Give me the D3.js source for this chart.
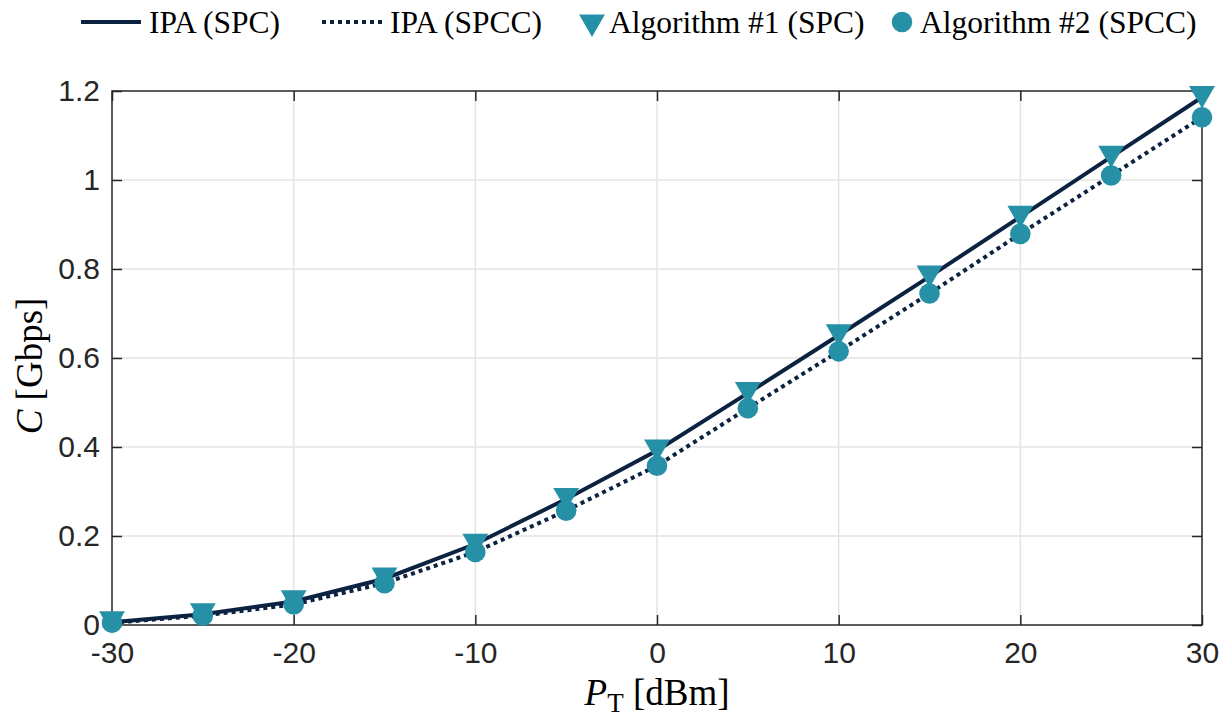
<!DOCTYPE html>
<html lang="en">
  <head>
    <meta charset="UTF-8" />
    <title>Capacity vs transmit power</title>
    <script src="https://d3js.org/d3.v7.min.js"></script>
    <style>
      body {
        margin: 0;
        background: #fff;
      }
      svg {
        display: block;
      }
    </style>
  </head>
  <body>
    <svg width="1232" height="722"></svg>
    <script>
      // data
      const powerDbm = [-30, -25, -20, -15, -10, -5, 0, 5, 10, 15, 20, 25, 30];
      const ipaSpc = [0.006, 0.024, 0.053, 0.104, 0.182, 0.283, 0.392, 0.521, 0.651, 0.783, 0.917, 1.052, 1.186];
      const ipaSpcc = [0.005, 0.021, 0.046, 0.094, 0.164, 0.257, 0.358, 0.487, 0.615, 0.745, 0.879, 1.01, 1.141];
      const alg1Spc = [0.006, 0.024, 0.053, 0.104, 0.18, 0.283, 0.392, 0.521, 0.651, 0.783, 0.917, 1.052, 1.186];
      const alg2Spcc = [0.005, 0.021, 0.046, 0.094, 0.164, 0.257, 0.358, 0.487, 0.615, 0.745, 0.879, 1.01, 1.141];
      const xTicks = [-30, -20, -10, 0, 10, 20, 30];
      const yTicks = [0, 0.2, 0.4, 0.6, 0.8, 1, 1.2];

      const lineColor = "#0b2240";
      const markerColor = "#2690a6";

      const svg = d3.select("svg");
      const margin = { top: 91, right: 30, bottom: 97, left: 112 };
      const width = 1202 - margin.left;
      const height = 625 - margin.top;

      const g = svg
        .append("g")
        .attr("transform", `translate(${margin.left},${margin.top})`);

      const x = d3.scaleLinear().domain([-30, 30]).range([0, width]);
      const y = d3.scaleLinear().domain([0, 1.2]).range([height, 0]);

      // grid
      g.append("g")
        .selectAll("line")
        .data(xTicks.slice(1, -1))
        .join("line")
        .attr("x1", (d) => x(d))
        .attr("x2", (d) => x(d))
        .attr("y1", 0)
        .attr("y2", height)
        .attr("stroke", "#e3e3e3")
        .attr("stroke-width", 1.5);
      g.append("g")
        .selectAll("line")
        .data(yTicks.slice(1, -1))
        .join("line")
        .attr("x1", 0)
        .attr("x2", width)
        .attr("y1", (d) => y(d))
        .attr("y2", (d) => y(d))
        .attr("stroke", "#e3e3e3")
        .attr("stroke-width", 1.5);

      // axes, ticks pointing inwards
      const styleAxis = (sel) => {
        sel.select(".domain").remove();
        sel.selectAll("line").attr("stroke", "#262626").attr("stroke-width", 1.5);
        sel.selectAll("text")
          .attr("fill", "#262626")
          .style("font-family", "'Liberation Sans', Arial, sans-serif")
          .style("font-size", "30px");
      };
      g.append("g")
        .attr("transform", `translate(0,${height})`)
        .call(d3.axisBottom(x).tickValues(xTicks).tickSizeInner(-10).tickSizeOuter(0).tickPadding(17).tickFormat((d) => String(d)))
        .call(styleAxis);
      g.append("g")
        .call(d3.axisLeft(y).tickValues(yTicks).tickSizeInner(-10).tickSizeOuter(0).tickPadding(12).tickFormat((d) => String(+d.toFixed(1))))
        .call(styleAxis);
      g.append("g")
        .call(d3.axisTop(x).tickValues(xTicks).tickSizeInner(-10).tickSizeOuter(0).tickFormat(""))
        .call(styleAxis);
      g.append("g")
        .attr("transform", `translate(${width},0)`)
        .call(d3.axisRight(y).tickValues(yTicks).tickSizeInner(-10).tickSizeOuter(0).tickFormat(""))
        .call(styleAxis);

      g.append("rect")
        .attr("width", width)
        .attr("height", height)
        .attr("fill", "none")
        .attr("stroke", "#262626")
        .attr("stroke-width", 1.5);

      // lines
      const line = (vals) =>
        d3.line().x((d, i) => x(powerDbm[i])).y((d) => y(d))(vals);

      g.append("path")
        .attr("d", line(ipaSpc))
        .attr("fill", "none")
        .attr("stroke", lineColor)
        .attr("stroke-width", 4);
      g.append("path")
        .attr("d", line(ipaSpcc))
        .attr("fill", "none")
        .attr("stroke", lineColor)
        .attr("stroke-width", 4)
        .attr("stroke-dasharray", "4,4");

      // markers (triangle bbox centred on the point, like MATLAB)
      const triangle = d3.symbol().type(d3.symbolTriangle).size(290);
      g.append("g")
        .selectAll("path")
        .data(alg1Spc)
        .join("path")
        .attr("d", triangle)
        .attr("transform", (d, i) => `translate(${x(powerDbm[i])},${y(d) - 3.7}) rotate(180)`)
        .attr("fill", markerColor);
      g.append("g")
        .selectAll("circle")
        .data(alg2Spcc)
        .join("circle")
        .attr("cx", (d, i) => x(powerDbm[i]))
        .attr("cy", (d) => y(d))
        .attr("r", 10.3)
        .attr("fill", markerColor);

      // axis titles
      const serif = "'Liberation Serif', 'Times New Roman', serif";
      const xt = svg.append("text")
        .attr("x", margin.left + width / 2)
        .attr("y", 705)
        .attr("text-anchor", "middle")
        .style("font-family", serif)
        .style("font-size", "37px")
        .attr("fill", "#000");
      xt.append("tspan").attr("font-style", "italic").text("P");
      xt.append("tspan").attr("dy", 7).style("font-size", "27px").text("T");
      xt.append("tspan").attr("dy", -7).text(" [dBm]");

      const yt = svg.append("text")
        .attr("transform", `translate(42,366) rotate(-90)`)
        .attr("text-anchor", "middle")
        .style("font-family", serif)
        .style("font-size", "37px")
        .attr("fill", "#000");
      yt.append("tspan").attr("font-style", "italic").text("C");
      yt.append("tspan").text(" [Gbps]");

      // legend
      const legend = svg.append("g").attr("transform", "translate(0,22)");
      const items = [
        { label: "IPA (SPC)", kind: "solid", x: 81 },
        { label: "IPA (SPCC)", kind: "dotted", x: 322 },
        { label: "Algorithm #1 (SPC)", kind: "tri", x: 578 },
        { label: "Algorithm #2 (SPCC)", kind: "circle", x: 890 },
      ];
      items.forEach((it) => {
        const li = legend.append("g").attr("transform", `translate(${it.x},0)`);
        let tx;
        if (it.kind === "solid" || it.kind === "dotted") {
          li.append("line")
            .attr("x1", 0).attr("x2", 60)
            .attr("stroke", lineColor)
            .attr("stroke-width", 4)
            .attr("stroke-dasharray", it.kind === "dotted" ? "4,4" : null);
          tx = 68;
        } else if (it.kind === "tri") {
          li.append("path")
            .attr("d", triangle)
            .attr("transform", "translate(14,0) rotate(180)")
            .attr("fill", markerColor);
          tx = 31;
        } else {
          li.append("circle").attr("cx", 12).attr("r", 10.3).attr("fill", markerColor);
          tx = 30;
        }
        li.append("text")
          .attr("x", tx)
          .attr("y", 11)
          .style("font-family", serif)
          .style("font-size", "31.5px")
          .attr("fill", "#000")
          .text(it.label);
      });
    </script>
  </body>
</html>
